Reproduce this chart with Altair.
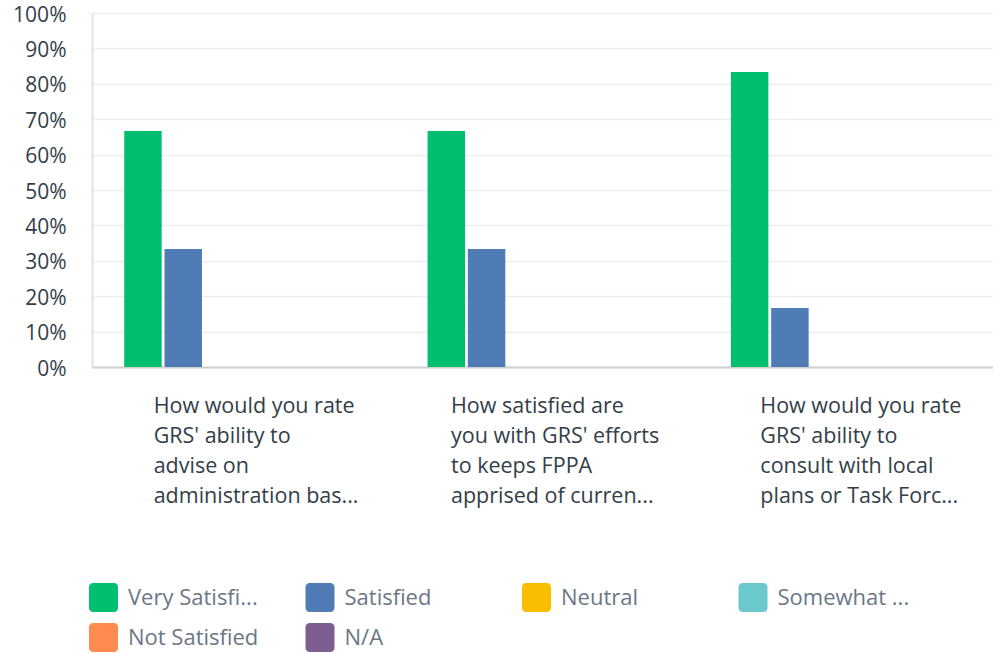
import altair as alt
import pandas as pd

categories = [
    "How would you rate\nGRS' ability to\nadvise on\nadministration bas...",
    "How satisfied are\nyou with GRS' efforts\nto keeps FPPA\napprised of curren...",
    "How would you rate\nGRS' ability to\nconsult with local\nplans or Task Forc...",
]
series = ["Very Satisfi...", "Satisfied", "Neutral", "Somewhat ...", "Not Satisfied", "N/A"]
colors = ["#00BF6F", "#507CB6", "#F9BE00", "#6BC8CD", "#FF8B4F", "#7D5E90"]

very_satisfied = [0.6667, 0.6667, 0.8333]
satisfied = [0.3333, 0.3333, 0.1667]
neutral = [0.0, 0.0, 0.0]
somewhat = [0.0, 0.0, 0.0]
not_satisfied = [0.0, 0.0, 0.0]
na = [0.0, 0.0, 0.0]

y_ticks = [0, 0.1, 0.2, 0.3, 0.4, 0.5, 0.6, 0.7, 0.8, 0.9, 1.0]

values = [very_satisfied, satisfied, neutral, somewhat, not_satisfied, na]
rows = []
for s, vals in zip(series, values):
    for c, v in zip(categories, vals):
        rows.append({"question": c, "answer": s, "pct": v})
df = pd.DataFrame(rows)

FONT = "Open Sans"
rounded_square = ("M-0.72,-1H0.72A0.28,0.28,0,0,1,1,-0.72V0.72A0.28,0.28,0,0,1,0.72,1"
                  "H-0.72A0.28,0.28,0,0,1,-1,0.72V-0.72A0.28,0.28,0,0,1,-0.72,-1Z")

chart = alt.Chart(df).mark_bar().encode(
    x=alt.X(
        "question:N",
        sort=categories,
        scale=alt.Scale(domain=categories, range=[0, 910], paddingInner=0, paddingOuter=0),
        axis=alt.Axis(
            title=None,
            labelExpr="split(datum.label, '\\n')",
            labelAlign="left",
            labelBaseline="top",
            labelAngle=0,
            labelOffset={"condition": {"test": "datum.index > 0.3 && datum.index < 0.7", "value": -96},
                         "value": -90},
            labelPadding=28,
            labelLineHeight=30,
            labelFontSize=21.5,
            labelFont=FONT,
            labelColor="#333e48",
            labelLimit=0,
            ticks=False,
            domainColor="#cfcfcf",
            domainWidth=2,
            grid=False,
        ),
    ),
    xOffset=alt.XOffset(
        "answer:N",
        sort=series,
        scale=alt.Scale(domain=series, paddingInner=0.07, paddingOuter=0.8),
    ),
    y=alt.Y(
        "pct:Q",
        scale=alt.Scale(domain=[0, 1]),
        axis=alt.Axis(
            title=None,
            format=".0%",
            values=y_ticks,
            labelFontSize=21,
            labelFont=FONT,
            labelColor="#333e48",
            labelPadding=26,
            labelOffset=2,
            ticks=False,
            domainColor="#e2e2e2",
            domainWidth=2,
            gridColor="#eeeeee",
            gridWidth=1.5,
        ),
    ),
    color=alt.Color(
        "answer:N",
        scale=alt.Scale(domain=series, range=colors),
        legend=alt.Legend(
            title=None,
            orient="none",
            legendX=-3,
            legendY=570,
            direction="horizontal",
            columns=4,
            gridAlign="all",
            columnPadding=45.5,
            rowPadding=11,
            padding=0,
            symbolType=rounded_square,
            symbolSize=841,
            symbolStrokeWidth=0,
            symbolOpacity=1,
            labelFontSize=22,
            labelFont=FONT,
            labelColor="#6b7785",
            labelOffset=10,
            labelLimit=0,
        ),
    ),
).properties(
    width=901,
    height=354,
    padding={"left": 92, "top": 13, "right": 0, "bottom": 286},
    autosize=alt.AutoSizeParams(type="none"),
    background="white",
).configure_view(stroke=None)

chart.save("out.html", embed_options={"renderer": "svg", "actions": False})
